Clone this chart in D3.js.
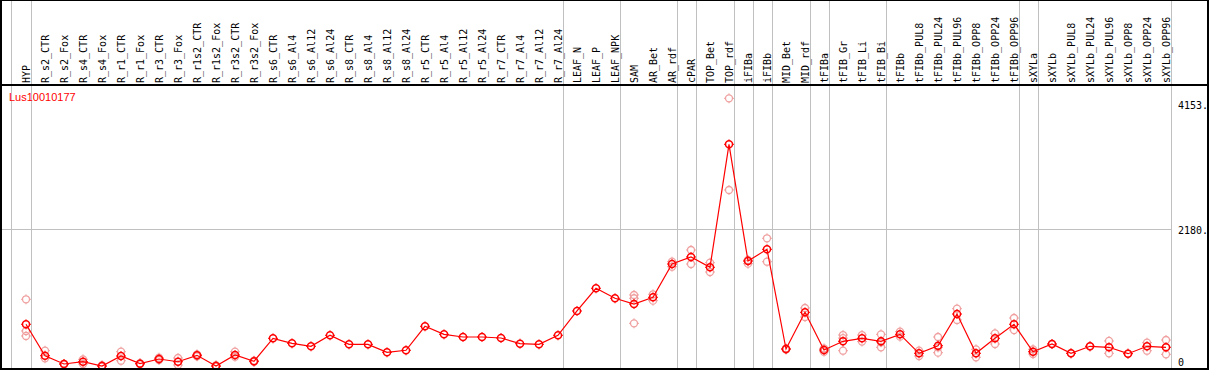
<!DOCTYPE html>
<html>
<head>
<meta charset="utf-8">
<script src="https://cdn.jsdelivr.net/npm/d3@7"></script>
<style>
  body { margin: 0; background: #fff; }
  text { font-family: "DejaVu Sans Mono", monospace; font-size: 10px; }
</style>
</head>
<body>
<div id="viz"></div>
<script>
// sample names (x categories)
var samples = ["HYP", "R_s2_CTR", "R_s2_Fox", "R_s4_CTR", "R_s4_Fox", "R_r1_CTR", "R_r1_Fox",
  "R_r3_CTR", "R_r3_Fox", "R_r1s2_CTR", "R_r1s2_Fox", "R_r3s2_CTR", "R_r3s2_Fox", "R_s6_CTR",
  "R_s6_Al4", "R_s6_Al12", "R_s6_Al24", "R_s8_CTR", "R_s8_Al4", "R_s8_Al12", "R_s8_Al24",
  "R_r5_CTR", "R_r5_Al4", "R_r5_Al12", "R_r5_Al24", "R_r7_CTR", "R_r7_Al4", "R_r7_Al12", "R_r7_Al24",
  "LEAF_N", "LEAF_P", "LEAF_NPK", "SAM", "AR_Bet", "AR_rdf", "cPAR", "TOP_Bet", "TOP_rdf",
  "iFIBa", "iFIBb", "MID_Bet", "MID_rdf", "tFIBa", "tFIB_Gr", "tFIB_Li", "tFIB_Bi", "tFIBb",
  "tFIBb_PUL8", "tFIBb_PUL24", "tFIBb_PUL96", "tFIBb_OPP8", "tFIBb_OPP24", "tFIBb_OPP96",
  "sXYLa", "sXYLb", "sXYLb_PUL8", "sXYLb_PUL24", "sXYLb_PUL96", "sXYLb_OPP8", "sXYLb_OPP24", "sXYLb_OPP96"];

// mean expression per sample
var means = [666, 169, 38, 74, 6, 164, 43, 117, 74, 175, 6, 180, 81, 444,
  365, 318, 492, 349, 349, 223, 255, 634, 507, 465, 465, 449, 359, 349, 492,
  876, 1235, 1077, 986, 1092, 1619, 1730, 1567, 3511,
  1666, 1851, 275, 855, 259, 397, 444, 397, 507,
  207, 327, 828, 207, 444, 666,
  232, 354, 207, 318, 302, 201, 318, 302];

// replicate values per sample
var replicates = [[1061, 560, 481], [248, 128], [38, 38], [112, 38], [20, 0], [232, 90], [50, 36],
  [138, 101], [133, 22], [190, 160], [20, 0], [232, 153], [90, 72], [],
  [], [], [], [], [], [], [],
  [], [], [], [], [], [], [], [],
  [], [], [], [1129, 1077, 681], [1140, 1039], [1655, 1576], [1840, 1619], [1639, 1492], [4238, 2789],
  [1682, 1624], [2025, 1655], [285, 265], [923, 781], [285, 232], [496, 248, 447], [496, 392], [507, 302, 382], [549, 470],
  [248, 164], [465, 217, 300], [912, 734], [270, 144], [523, 354], [765, 575],
  [270, 196], [354], [207], [318], [402, 207], [201], [375, 248], [417, 191]];

// last sample of each group (grey separator drawn after it)
var groupEnds = ["HYP", "R_r7_Al24", "LEAF_NPK", "AR_rdf", "cPAR", "TOP_rdf", "iFIBa", "iFIBb",
  "MID_rdf", "tFIBa", "tFIB_Bi", "tFIBb_OPP96", "sXYLa", "sXYLb_OPP96"];

var yTicks = [0, 2180, 4153];
var yTickLabels = ["0", "2180.", "4153."];
var geneName = "Lus10010177";

var width = 1209, height = 370;

var svg = d3.select("#viz")
  .append("svg")
    .attr("width", width)
    .attr("height", height);

var x = d3.scalePoint()
  .domain(samples)
  .range([26, 1166]);

var y = d3.scaleLinear()
  .domain([0, 4153])
  .range([366.4, 103.7]);

// grey vertical separators
var seps = [x(samples[0]) - 15.3].concat(groupEnds.map(function(s) { return x(s) + 4.7; }));
svg.selectAll("line.vsep")
  .data(seps)
  .enter()
  .append("line")
    .attr("class", "vsep")
    .attr("x1", function(d) { return Math.round(d) + 0.5; })
    .attr("x2", function(d) { return Math.round(d) + 0.5; })
    .attr("y1", 0)
    .attr("y2", 368)
    .style("stroke", "#c0c0c0")
    .style("stroke-width", 1);

// horizontal grid line at the middle tick
svg.append("line")
  .attr("x1", 0)
  .attr("x2", 1172)
  .attr("y1", Math.round(y(yTicks[1])) + 0.5)
  .attr("y2", Math.round(y(yTicks[1])) + 0.5)
  .style("stroke", "#c0c0c0");

// y tick labels on the right
svg.selectAll("text.ytick")
  .data(yTicks)
  .enter()
  .append("text")
    .attr("class", "ytick")
    .attr("x", 1178)
    .attr("y", function(d) { return Math.min(y(d) + 5, 366); })
    .style("fill", "#000")
    .text(function(d, i) { return yTickLabels[i]; });

// sample labels, rotated
svg.selectAll("text.sample")
  .data(samples)
  .enter()
  .append("text")
    .attr("class", "sample")
    .attr("transform", function(d) { return "translate(" + (x(d) + 3.5) + ",83) rotate(-90)"; })
    .style("fill", "#000")
    .text(function(d) { return d; });

// gene name
svg.append("text")
  .attr("x", 9)
  .attr("y", 101)
  .style("font-family", "'Liberation Sans', Arial, sans-serif")
  .style("font-size", "11px")
  .style("fill", "#ff0000")
  .text(geneName);

// small tick glyph around each circle
function ringPath(cx, cy) {
  var r = 3.5, t = 1.5;
  return "M" + cx + "," + (cy - r - t) + "V" + (cy - r) +
    "M" + cx + "," + (cy + r) + "V" + (cy + r + t) +
    "M" + (cx - r - t) + "," + cy + "H" + (cx - r) +
    "M" + (cx + r) + "," + cy + "H" + (cx + r + t);
}

// replicate points
var reps = [];
samples.forEach(function(s, i) {
  replicates[i].forEach(function(v) { reps.push({ s: s, v: v }); });
});
var repG = svg.append("g").attr("class", "reps");
repG.selectAll("circle")
  .data(reps)
  .enter()
  .append("circle")
    .attr("cx", function(d) { return x(d.s); })
    .attr("cy", function(d) { return y(d.v); })
    .attr("r", 3.5)
    .style("fill", "none")
    .style("stroke", "#f0a0a0")
    .style("stroke-width", 1.3);
repG.selectAll("path")
  .data(reps)
  .enter()
  .append("path")
    .attr("d", function(d) { return ringPath(x(d.s), y(d.v)); })
    .style("stroke", "#f0a0a0")
    .style("stroke-width", 1);

// line through means
var meanData = samples.map(function(s, i) { return { s: s, v: means[i] }; });
svg.append("path")
  .datum(meanData)
  .attr("d", d3.line()
    .x(function(d) { return x(d.s); })
    .y(function(d) { return y(d.v); }))
  .style("fill", "none")
  .style("stroke", "#ff0000")
  .style("stroke-width", 1.2);

var meanG = svg.append("g").attr("class", "means");
meanG.selectAll("circle")
  .data(meanData)
  .enter()
  .append("circle")
    .attr("cx", function(d) { return x(d.s); })
    .attr("cy", function(d) { return y(d.v); })
    .attr("r", 3.5)
    .style("fill", "none")
    .style("stroke", "#ff0000")
    .style("stroke-width", 1.5);
meanG.selectAll("path")
  .data(meanData)
  .enter()
  .append("path")
    .attr("d", function(d) { return ringPath(x(d.s), y(d.v)); })
    .style("stroke", "#ff0000")
    .style("stroke-width", 1);

// frame and header separator
svg.append("rect")
  .attr("x", 1)
  .attr("y", 0)
  .attr("width", 1207)
  .attr("height", 369)
  .style("fill", "none")
  .style("stroke", "#000")
  .style("stroke-width", 2);

svg.append("line")
  .attr("x1", 0)
  .attr("x2", width)
  .attr("y1", 85)
  .attr("y2", 85)
  .style("stroke", "#000")
  .style("stroke-width", 2);
</script>
</body>
</html>
